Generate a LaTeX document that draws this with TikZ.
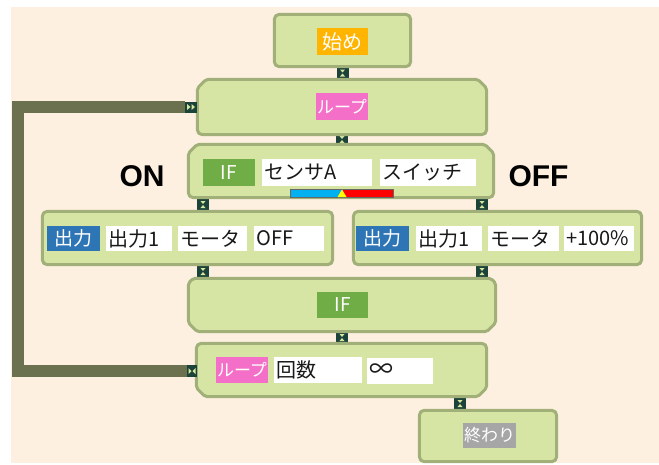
\documentclass[tikz,border=0pt]{standalone}
\usepackage{fontspec}
\setmainfont{Noto Sans CJK JP}
\newfontfamily\onofffont{Liberation Sans}
\usetikzlibrary{calc}
\definecolor{bg}{HTML}{FDF0E0}
\definecolor{blkfill}{HTML}{D6E4A4}
\definecolor{blkline}{HTML}{A0B078}
\definecolor{wirec}{HTML}{6B714E}
\definecolor{cond}{HTML}{1B4339}
\definecolor{conm}{HTML}{D9E6A0}
\definecolor{lorange}{HTML}{FFB400}
\definecolor{lpink}{HTML}{F470C8}
\definecolor{lgreen}{HTML}{70AD47}
\definecolor{lblue}{HTML}{2E75B6}
\definecolor{lgray}{HTML}{A6A6A6}
\definecolor{barblue}{HTML}{00B0F0}
\definecolor{barred}{HTML}{FF0000}
\definecolor{baryel}{HTML}{FFFF00}
\newcommand\fsz[1]{\fontsize{#1}{#1}\selectfont}
\newcommand\blockoutline[3]{%
  \filldraw[blockstyle] let \p1=(#1.north west), \p2=(#1.south east) in
    (\x1,\y1-#2pt) -- (\x1+#2pt,\y1) -- (\x2-#2pt,\y1) -- (\x2,\y1-#2pt)
    -- (\x2,\y2+#3pt) -- (\x2-#3pt,\y2) -- (\x1+#3pt,\y2) -- (\x1,\y2+#3pt) -- cycle;}
\tikzset{
  blk/.style={rectangle, inner sep=0pt},
  blockstyle/.style={fill=blkfill, draw=blkline, line width=3pt, rounded corners=2pt, line join=round},
  conn/.style={draw=cond, line width=12pt},
  wire/.style={draw=wirec, line width=12pt},
  cmark/.style={inner sep=0pt, minimum width=7pt, minimum height=8pt,
    path picture={
      \fill[conm] ([xshift=-2.5pt,yshift=3.5pt]path picture bounding box.center) -- ++(5pt,0pt)
        -- ([yshift=0.5pt]path picture bounding box.center) -- cycle;
      \fill[conm] ([xshift=-2.5pt,yshift=-3.5pt]path picture bounding box.center) -- ++(5pt,0pt)
        -- ([yshift=-0.5pt]path picture bounding box.center) -- cycle;}},
  loopicon/.style={rectangle, fill=cond, inner sep=0pt, minimum width=12pt, minimum height=11pt},
  lab/.style={rectangle, inner sep=0pt, text=white, minimum width=52pt, minimum height=26pt},
  wbox/.style={rectangle, fill=white, inner sep=0pt, inner xsep=2pt, minimum height=25pt,
    anchor=west, align=left, text width=#1, font=\fsz{20}, text=black!90},
  onoff/.style={inner sep=0pt, font=\onofffont\bfseries\fsz{30}},
}
\begin{document}
\begin{tikzpicture}[x=1pt,y=-1pt]
\useasboundingbox (0,0) rectangle (659,464);
\fill[bg] (11,7) rectangle (659,463);
% block geometry
\node[blk, minimum width=136pt, minimum height=52pt] (start) at (342.5,40.5) {};
\node[blk, minimum width=289pt, minimum height=55pt] (loop) at (342,107) {};
\node[blk, minimum width=305pt, minimum height=53pt] (ifb) at (341,171) {};
\node[blk, minimum width=290pt, minimum height=53pt] (outl) at (187.5,238) {};
\node[blk, minimum width=288pt, minimum height=53pt] (outr) at (497.5,238) {};
\node[blk, minimum width=307pt, minimum height=53pt] (merge) at (342,305) {};
\node[blk, minimum width=290pt, minimum height=53pt] (loopend) at (341.5,370) {};
\node[blk, minimum width=137pt, minimum height=51pt] (endb) at (488,436) {};
\coordinate (xl) at (203,0);
\coordinate (xr) at (482,0);
\coordinate (xe) at (460,0);
\coordinate (wl) at (18,240);
\node[loopicon] (loopin) at (191,107) {};
\node[loopicon, minimum width=10pt, minimum height=12pt] (loopout) at (192,371) {};
% wire and connectors
\draw[wire] (loopin.west) -| (wl) |- (loopout.west);
\draw[conn] (start.south) -- (start.south |- loop.north) node[midway, cmark] {};
\draw[conn] (loop.south) -- (loop.south |- ifb.north) node[midway, cmark] {};
\draw[conn] (ifb.south -| xl) -- (outl.north -| xl) node[midway, cmark] {};
\draw[conn] (ifb.south -| xr) -- (outr.north -| xr) node[midway, cmark] {};
\draw[conn] (outl.south -| xl) -- (merge.north -| xl) node[midway, cmark] {};
\draw[conn] (outr.south -| xr) -- (merge.north -| xr) node[midway, cmark] {};
\draw[conn] (merge.south) -- (merge.south |- loopend.north) node[midway, cmark] {};
\draw[conn] (loopend.south -| xe) -- (endb.north -| xe) node[midway, cmark] {};
% outlines
\blockoutline{start}{3}{3}
\blockoutline{loop}{9}{3}
\blockoutline{ifb}{9}{3}
\blockoutline{outl}{3}{3}
\blockoutline{outr}{3}{3}
\blockoutline{merge}{5}{9}
\blockoutline{loopend}{3}{9}
\blockoutline{endb}{3}{3}
% loop icons on top
\node[loopicon] at (loopin) {};
\fill[conm] ([xshift=-4pt,yshift=3pt]loopin.center) -- ++(3.5pt,-3pt) -- ++(-3.5pt,-3pt) -- cycle;
\fill[conm] ([xshift=0.5pt,yshift=3pt]loopin.center) -- ++(3.5pt,-3pt) -- ++(-3.5pt,-3pt) -- cycle;
\node[loopicon, minimum width=10pt, minimum height=12pt] at (loopout) {};
\fill[conm] ([xshift=-3.5pt,yshift=3pt]loopout.center) -- ++(3pt,-3pt) -- ++(-3pt,-3pt) -- cycle;
\fill[conm] ([xshift=3.5pt,yshift=3pt]loopout.center) -- ++(-3pt,-3pt) -- ++(3pt,-3pt) -- cycle;
% labels
\node[lab, fill=lorange, minimum width=51pt, minimum height=27pt, font=\fsz{20}] (startl) at (342.5,41.5) {始め};
\node[lab, fill=lpink, minimum height=27pt, font=\fsz{17}] (loopl) at (342,106.5) {ループ};
\node[lab, fill=lgreen, minimum height=27pt, font=\fsz{19}] (ifl) at (229,172.5) {IF};
\node[wbox=106pt, minimum height=27pt] (sensor) at (262,172.5) {センサA};
\node[wbox=92pt, minimum height=27pt] (switch) at (380,172.5) {スイッチ};
\node[rectangle, fill=barblue, draw=black!60, line width=0.4pt, inner sep=0pt, minimum width=52pt, minimum height=8pt, anchor=east] (barb) at (342,193) {};
\node[rectangle, fill=barred, draw=black!60, line width=0.4pt, inner sep=0pt, minimum width=51pt, minimum height=8pt, anchor=west] (barr) at (342,193) {};
\fill[baryel] (342,189.5) -- (346.5,197) -- (337.5,197) -- cycle;
\node[onoff] (on) at (142,176.5) {ON};
\node[onoff] (off) at (538.5,176.5) {OFF};
\node[lab, fill=lblue, minimum width=53pt, minimum height=25pt, font=\fsz{19}] (outlabl) at (73.5,238.5) {出力};
\node[wbox=62pt] (o1l) at (106,238.5) {出力1};
\node[wbox=65pt] (motl) at (178,238.5) {モータ};
\node[wbox=66pt] (vall) at (254,238.5) {OFF};
\node[lab, fill=lblue, minimum width=53pt, minimum height=25pt, font=\fsz{19}] (outlabr) at (382.5,238.5) {出力};
\node[wbox=62pt] (o1r) at (416,238.5) {出力1};
\node[wbox=67pt] (motr) at (488,238.5) {モータ};
\node[wbox=66pt] (valr) at (564,238.5) {+100\%};
\node[lab, fill=lgreen, minimum width=51pt, minimum height=26pt, font=\fsz{19}] (mergel) at (342.5,305) {IF};
\node[lab, fill=lpink, minimum height=26pt, font=\fsz{17}] (loopendl) at (242,370) {ループ};
\node[wbox=84pt, minimum height=26pt] (count) at (274,370) {回数};
\node[wbox=62pt, minimum height=26pt, font=\fsz{24}] (inf) at (367,371) {∞};
\node[lab, fill=lgray, minimum width=53pt, minimum height=25pt, font=\fsz{17}] (endl) at (489.5,435.5) {終わり};
\end{tikzpicture}
\end{document}
